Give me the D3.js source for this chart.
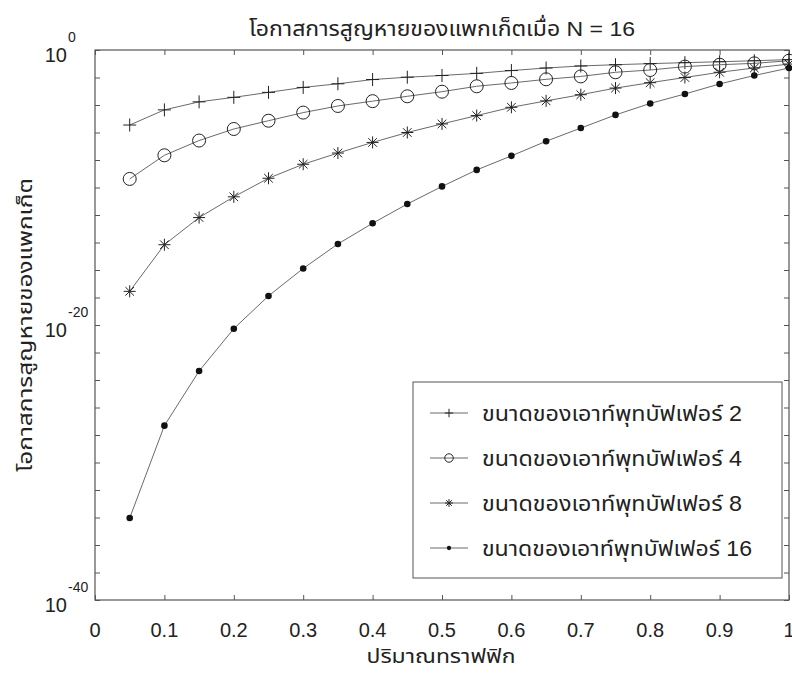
<!DOCTYPE html>
<html>
<head>
<meta charset="utf-8">
<script src="https://cdn.jsdelivr.net/npm/d3@7"></script>
<style>
  html, body { margin: 0; padding: 0; background: #fff; }
  svg { display: block; }
  text { font-family: "Liberation Sans", Arial, "Noto Sans Thai", "Noto Sans", sans-serif; fill: #222; }
</style>
</head>
<body>
<svg id="chart" width="792" height="674"></svg>
<script>
// ---------------- data ----------------
const trafficLoad = [0.05,0.10,0.15,0.20,0.25,0.30,0.35,0.40,0.45,0.50,0.55,0.60,0.65,0.70,0.75,0.80,0.85,0.90,0.95,1.00];

const buffer2  = [3.5e-6,4.4e-5,1.7e-4,3.6e-4,8.3e-4,1.9e-3,3.5e-3,7.1e-3,1.05e-2,1.4e-2,2.0e-2,3.2e-2,4.9e-2,6.9e-2,8.5e-2,0.102,0.12,0.14,0.166,0.2];
const buffer4  = [4.2e-10,2.2e-8,2.6e-7,1.8e-6,7.2e-6,2.8e-5,8.5e-5,1.9e-4,4.3e-4,9.3e-4,2.3e-3,4.0e-3,7.4e-3,1.2e-2,2.4e-2,3.5e-2,6.2e-2,8.5e-2,0.107,0.166];
const buffer8  = [2.8e-18,6.9e-15,6.5e-13,2.1e-11,4.7e-10,4.9e-9,3.2e-8,1.9e-7,1.0e-6,4.2e-6,1.7e-5,6.8e-5,2.0e-4,5.6e-4,1.7e-3,4.2e-3,1.0e-2,2.4e-2,4.9e-2,9.5e-2];
const buffer16 = [9.1e-35,4.8e-28,4.5e-24,5.4e-21,1.3e-18,1.3e-16,7.8e-15,2.5e-13,6.3e-12,1.2e-10,1.9e-9,2.0e-8,2.3e-7,2.1e-6,1.9e-5,1.3e-4,6.3e-4,3.4e-3,1.4e-2,4.9e-2];

const seriesNames = ["ขนาดของเอาท์พุทบัฟเฟอร์ 2","ขนาดของเอาท์พุทบัฟเฟอร์ 4","ขนาดของเอาท์พุทบัฟเฟอร์ 8","ขนาดของเอาท์พุทบัฟเฟอร์ 16"];
const xTickValues = [0,0.1,0.2,0.3,0.4,0.5,0.6,0.7,0.8,0.9,1];
const xTickLabels = ["0","0.1","0.2","0.3","0.4","0.5","0.6","0.7","0.8","0.9","1"];
const yLabelExponents = [0,-20,-40];
const titleText = "โอกาสการสูญหายของแพกเก็ตเมื่อ N = 16";
const xAxisTitle = "ปริมาณทราฟฟิก";
const yAxisTitle = "โอกาสการสูญหายของแพกเก็ต";

// ---------------- layout ----------------
const L = 95, R = 789, T = 50, B = 600;
const svg = d3.select("#chart");
const x = d3.scaleLinear().domain([0,1]).range([L,R]);
const y = d3.scaleLog().domain([1e-40,1]).range([B,T]);

const axisColor = "#555";
const lineColor = "#6a6a6a";
const markColor = "#222";

const yTickValues = d3.range(-40, 1, 2).map(e => Math.pow(10, e));

function styleAxis(g) {
  g.select(".domain").remove();
  g.selectAll(".tick line").attr("stroke", axisColor).attr("stroke-width", 1);
  g.selectAll("text").remove();
}

// ticks (inward) on all four sides
svg.append("g").attr("transform",`translate(0,${B})`)
  .call(d3.axisBottom(x).tickValues(xTickValues).tickSize(-5)).call(styleAxis);
svg.append("g").attr("transform",`translate(0,${T})`)
  .call(d3.axisTop(x).tickValues(xTickValues).tickSize(-5)).call(styleAxis);
svg.append("g").attr("transform",`translate(${L},0)`)
  .call(d3.axisLeft(y).tickValues(yTickValues).tickSize(-5)).call(styleAxis);
svg.append("g").attr("transform",`translate(${R},0)`)
  .call(d3.axisRight(y).tickValues(yTickValues).tickSize(-5)).call(styleAxis);

// box
svg.append("rect").attr("x",L).attr("y",T).attr("width",R-L).attr("height",B-T)
  .attr("fill","none").attr("stroke",axisColor).attr("stroke-width",1.2);

// x tick labels
svg.append("g").selectAll("text").data(xTickValues).join("text")
  .attr("x", d => x(d)).attr("y", B + 37)
  .attr("text-anchor","middle").attr("font-size", 20)
  .text((d,i) => xTickLabels[i]);

// y tick labels 10^e
const yl = svg.append("g").selectAll("g").data(yLabelExponents).join("g")
  .attr("transform", e => `translate(0,${y(Math.pow(10,e))})`);
yl.append("text").attr("x", 67).attr("y", 11.5).attr("text-anchor","end")
  .attr("font-size", 20).text("10");
yl.append("text").attr("x", 68).attr("y", -8.5).attr("text-anchor","start")
  .attr("font-size", 14).text(e => e === 0 ? "0" : String(e));

// title
function fitText(sel, w) {
  sel.attr("textLength", w).attr("lengthAdjust", "spacingAndGlyphs");
}
svg.append("text").attr("x", 442).attr("y", 36).attr("text-anchor","middle")
  .attr("font-size", 21).text(titleText).call(fitText, 386);

// axis titles
svg.append("text").attr("x", 441).attr("y", 663).attr("text-anchor","middle")
  .attr("font-size", 20).text(xAxisTitle).call(fitText, 149);
svg.append("text").attr("transform","translate(32,325) rotate(-90)")
  .attr("text-anchor","middle").attr("font-size", 20).text(yAxisTitle).call(fitText, 294);

// ---------------- series ----------------
const allSeries = [buffer2, buffer4, buffer8, buffer16];
const markerTypes = ["plus","circle","star","dot"];

function drawMarker(g, type, s) {
  if (type === "plus") {
    g.append("path").attr("d", `M${-6.5*s},0H${6.5*s}M0,${-6.5*s}V${6.5*s}`)
      .attr("stroke", markColor).attr("stroke-width", 1).attr("fill","none");
  } else if (type === "circle") {
    g.append("circle").attr("r", 6.5*s).attr("fill","none")
      .attr("stroke", markColor).attr("stroke-width", 1);
  } else if (type === "star") {
    const a = 6*s, b = 4.3*s;
    g.append("path").attr("d", `M${-a},0H${a}M0,${-a}V${a}M${-b},${-b}L${b},${b}M${-b},${b}L${b},${-b}`)
      .attr("stroke", markColor).attr("stroke-width", 1).attr("fill","none");
  } else {
    g.append("circle").attr("r", 3.3*s).attr("fill", "#111").attr("stroke","none");
  }
}

const line = d3.line().x((d,i) => x(trafficLoad[i])).y(d => y(d));

allSeries.forEach((vals, k) => {
  svg.append("path").datum(vals).attr("d", line)
    .attr("fill","none").attr("stroke", lineColor).attr("stroke-width", 1);
  const mg = svg.append("g");
  vals.forEach((v, i) => {
    const g = mg.append("g").attr("transform", `translate(${x(trafficLoad[i])},${y(v)})`);
    drawMarker(g, markerTypes[k], 1);
  });
});

// ---------------- legend ----------------
const lg = svg.append("g");
lg.append("rect").attr("x", 413).attr("y", 382).attr("width", 369).attr("height", 196)
  .attr("fill","#fff").attr("stroke", axisColor).attr("stroke-width", 1);
const legendWidths = [260, 260, 260, 270];
seriesNames.forEach((name, k) => {
  const cy = 413 + k*45;
  lg.append("line").attr("x1", 430).attr("x2", 468).attr("y1", cy).attr("y2", cy)
    .attr("stroke", lineColor).attr("stroke-width", 1);
  const g = lg.append("g").attr("transform", `translate(449,${cy})`);
  drawMarker(g, markerTypes[k], 0.65);
  lg.append("text").attr("x", 482).attr("y", cy + 8).attr("font-size", 22)
    .text(name).call(fitText, legendWidths[k]);
});
</script>
</body>
</html>
